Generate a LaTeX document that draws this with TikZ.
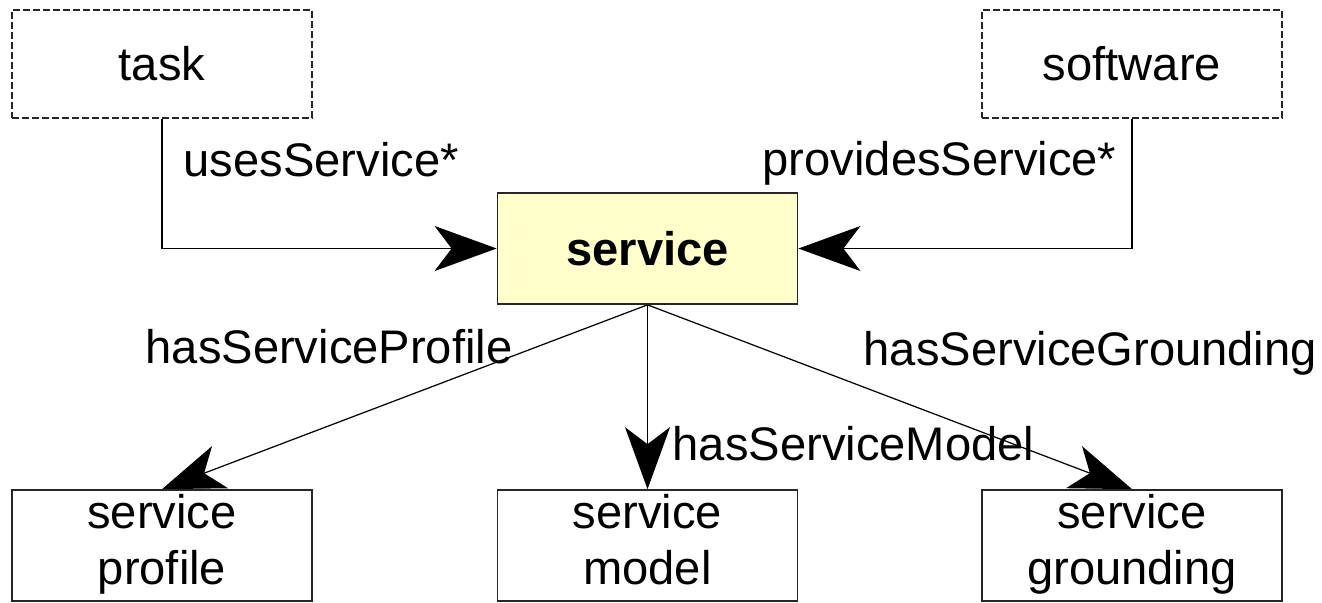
\documentclass[tikz,border=0pt]{standalone}
\usepackage{fontspec}
\setmainfont{Liberation Sans}
\usepackage{xcolor}
\usetikzlibrary{arrows.meta,backgrounds}

\definecolor{svcfill}{RGB}{255,255,204}
\newcommand{\diafont}{\fontsize{13.4}{15.9}\selectfont}
\newcommand{\rowstrut}{\rule[-4pt]{0pt}{14.2pt}}

\tikzset{
  box/.style={draw=black!85, line width=0.45pt, fill=white, inner sep=0pt,
    minimum width=3cm, minimum height=1.08cm, align=center},
  extbox/.style={box, dash pattern=on 0.7mm off 0.3mm},
  mainbox/.style={box, fill=svcfill, minimum height=1.11cm, font=\diafont\bfseries},
  partbox/.style={box, minimum height=1.11cm},
  conn/.style={black, line width=0.35pt, -{Stealth[length=6.2mm,width=4.5mm,inset=1.7mm]}},
  rel/.style={anchor=base west, inner sep=0pt}
}

\begin{document}
\begin{tikzpicture}[x=0.01cm, y=-0.01cm, every node/.style={font=\diafont}]
    %Values
    \def\xl{162};
    \def\xm{647.5};
    \def\xr{1132};

    \useasboundingbox (0,0) rectangle (1322,602);

    % Nodes
    \node[extbox] (task) at (\xl,64) {task};
    \node[extbox] (soft) at (\xr,64) {software};
    \node[mainbox] (svc) at (\xm,248.5) {service};

    \node[partbox] (prof) at (\xl,545.5) {\rowstrut service\\\rowstrut profile};
    \node[partbox] (model) at (\xm,545.5) {\rowstrut service\\\rowstrut model};
    \node[partbox] (grnd) at (\xr,545.5) {\rowstrut service\\\rowstrut grounding};

    % Edges
    \begin{scope}[on background layer]
    \draw[conn] (task.south) |- (svc.west);
    \draw[conn] (soft.south) |- (svc.east);
    \draw[conn] (svc.south) -- (prof.north);
    \draw[conn] (svc.south) -- (model.north);
    \draw[conn] (svc.south) -- (grnd.north);
    \end{scope}

    % Labels
    \node[rel] (lbluses) at (183,176) {usesService*};
    \node[rel] (lblprov) at (762,175) {providesService*};
    \node[rel] (lblprof) at (145,363) {hasServiceProfile};
    \node[rel] (lblmodel) at (672,460) {hasServiceModel};
    \node[rel] (lblgrnd) at (863,365) {hasServiceGrounding};
  \end{tikzpicture}
\end{document}
